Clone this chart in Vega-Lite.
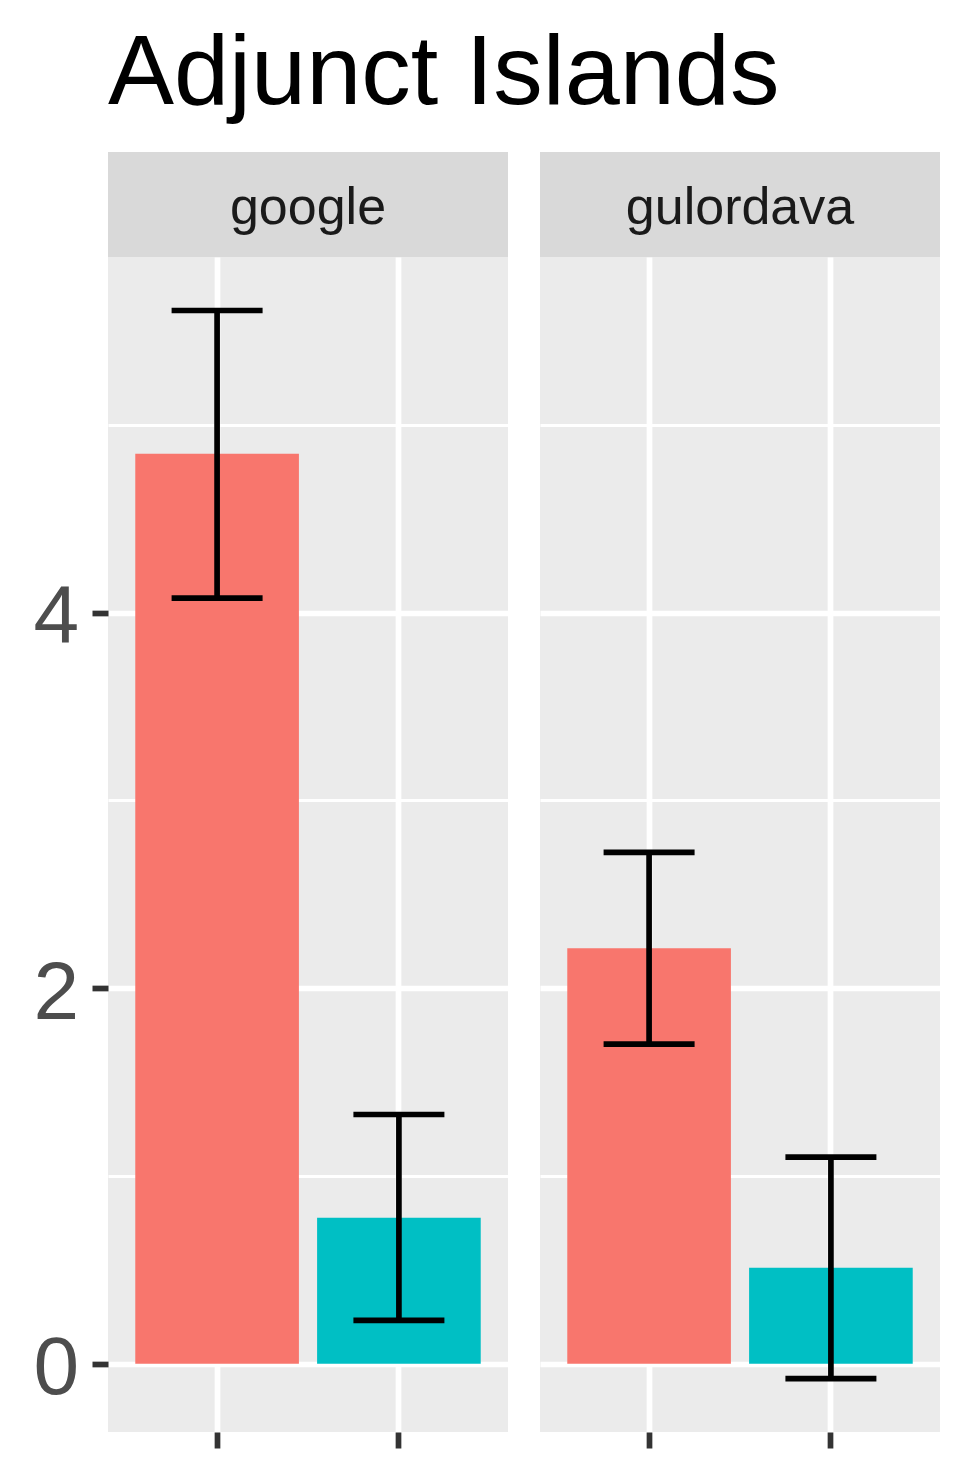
{
  "$schema": "https://vega.github.io/schema/vega-lite/v6.json",
  "background": "white",
  "padding": {"left": 32, "top": 25, "right": 30, "bottom": 32},
  "datasets": {
    "bars": [
      {"model": "google", "cond": "a", "mean": 4.846, "lo": 4.077, "hi": 5.609},
      {"model": "google", "cond": "b", "mean": 0.777, "lo": 0.230, "hi": 1.327},
      {"model": "gulordava", "cond": "a", "mean": 2.213, "lo": 1.702, "hi": 2.723},
      {"model": "gulordava", "cond": "b", "mean": 0.511, "lo": -0.080, "hi": 1.100}
    ]
  },
  "title": {
    "text": "Adjunct Islands",
    "fontSize": 99,
    "font": "Liberation Sans",
    "fontWeight": "normal",
    "color": "#000000",
    "anchor": "start",
    "frame": "group",
    "baseline": "alphabetic",
    "offset": -51
  },
  "spacing": 32,
  "hconcat": [
    {
      "spacing": 0,
      "vconcat": [
        {
          "width": 400,
          "height": 105,
          "view": {"fill": "#D9D9D9", "stroke": null},
          "data": {"name": "bars"},
          "transform": [{"filter": "datum.model === 'google' && datum.cond === 'a'"}],
          "mark": {"type": "text", "fontSize": 52, "font": "Liberation Sans", "color": "#1A1A1A", "baseline": "middle", "align": "center", "dy": 3},
          "encoding": {"text": {"field": "model"}}
        },
        {
          "width": 400,
          "height": 1175,
          "view": {"fill": "#EBEBEB", "stroke": null},
          "data": {"name": "bars"},
          "transform": [{"filter": "datum.model === 'google'"}],
          "encoding": {
            "x": {
              "field": "cond",
              "type": "nominal",
              "scale": {"paddingInner": 0.1, "paddingOuter": 0.15},
              "axis": {"title": null, "labels": false, "ticks": true, "tickSize": 16, "tickWidth": 5.7, "tickColor": "#333333", "domain": false, "grid": true, "gridColor": "#FFFFFF", "gridWidth": 5.7}
            }
          },
          "layer": [
            {
              "mark": {"type": "bar"},
              "encoding": {
                "y": {
                  "field": "mean",
                  "type": "quantitative",
                  "title": null,
                  "scale": {"domain": [-0.364, 5.894], "nice": false, "zero": false},
                  "axis": {
                    "values": [0, 1, 2, 3, 4, 5],
                    "format": "d",
                    "labelExpr": "datum.value % 2 === 0 ? datum.label : ''",
                    "labelOverlap": false,
                    "labelFontSize": 82,
                    "labelFont": "Liberation Sans",
                    "labelColor": "#4D4D4D",
                    "labelPadding": 13.5,
                    "labelOffset": 5,
                    "tickSize": 16,
                    "tickWidth": 5.7,
                    "tickColor": {"condition": {"test": "datum.value % 2 === 0", "value": "#333333"}, "value": "transparent"},
                    "domain": false,
                    "grid": true,
                    "gridColor": "#FFFFFF",
                    "gridWidth": {"condition": {"test": "datum.value % 2 === 0", "value": 5.7}, "value": 2.85}
                  }
                },
                "color": {"field": "cond", "type": "nominal", "scale": {"domain": ["a", "b"], "range": ["#F8766D", "#00BFC4"]}, "legend": null}
              }
            },
            {
              "mark": {"type": "rule", "color": "#000000", "strokeWidth": 5.7},
              "encoding": {"y": {"field": "lo", "type": "quantitative", "title": null}, "y2": {"field": "hi"}}
            },
            {
              "mark": {"type": "tick", "color": "#000000", "size": 91, "thickness": 5.7, "opacity": 1},
              "encoding": {"y": {"field": "lo", "type": "quantitative", "title": null}}
            },
            {
              "mark": {"type": "tick", "color": "#000000", "size": 91, "thickness": 5.7, "opacity": 1},
              "encoding": {"y": {"field": "hi", "type": "quantitative", "title": null}}
            }
          ]
        }
      ]
    },
    {
      "spacing": 0,
      "vconcat": [
        {
          "width": 400,
          "height": 105,
          "view": {"fill": "#D9D9D9", "stroke": null},
          "data": {"name": "bars"},
          "transform": [{"filter": "datum.model === 'gulordava' && datum.cond === 'a'"}],
          "mark": {"type": "text", "fontSize": 52, "font": "Liberation Sans", "color": "#1A1A1A", "baseline": "middle", "align": "center", "dy": 3},
          "encoding": {"text": {"field": "model"}}
        },
        {
          "width": 400,
          "height": 1175,
          "view": {"fill": "#EBEBEB", "stroke": null},
          "data": {"name": "bars"},
          "transform": [{"filter": "datum.model === 'gulordava'"}],
          "encoding": {
            "x": {
              "field": "cond",
              "type": "nominal",
              "scale": {"paddingInner": 0.1, "paddingOuter": 0.15},
              "axis": {"title": null, "labels": false, "ticks": true, "tickSize": 16, "tickWidth": 5.7, "tickColor": "#333333", "domain": false, "grid": true, "gridColor": "#FFFFFF", "gridWidth": 5.7}
            }
          },
          "layer": [
            {
              "mark": {"type": "bar"},
              "encoding": {
                "y": {
                  "field": "mean",
                  "type": "quantitative",
                  "title": null,
                  "scale": {"domain": [-0.364, 5.894], "nice": false, "zero": false},
                  "axis": {
                    "values": [0, 1, 2, 3, 4, 5],
                    "labels": false,
                    "ticks": false,
                    "domain": false,
                    "grid": true,
                    "gridColor": "#FFFFFF",
                    "gridWidth": {"condition": {"test": "datum.value % 2 === 0", "value": 5.7}, "value": 2.85}
                  }
                },
                "color": {"field": "cond", "type": "nominal", "scale": {"domain": ["a", "b"], "range": ["#F8766D", "#00BFC4"]}, "legend": null}
              }
            },
            {
              "mark": {"type": "rule", "color": "#000000", "strokeWidth": 5.7},
              "encoding": {"y": {"field": "lo", "type": "quantitative", "title": null}, "y2": {"field": "hi"}}
            },
            {
              "mark": {"type": "tick", "color": "#000000", "size": 91, "thickness": 5.7, "opacity": 1},
              "encoding": {"y": {"field": "lo", "type": "quantitative", "title": null}}
            },
            {
              "mark": {"type": "tick", "color": "#000000", "size": 91, "thickness": 5.7, "opacity": 1},
              "encoding": {"y": {"field": "hi", "type": "quantitative", "title": null}}
            }
          ]
        }
      ]
    }
  ],
  "config": {
    "font": "Liberation Sans",
    "view": {"stroke": null}
  }
}
